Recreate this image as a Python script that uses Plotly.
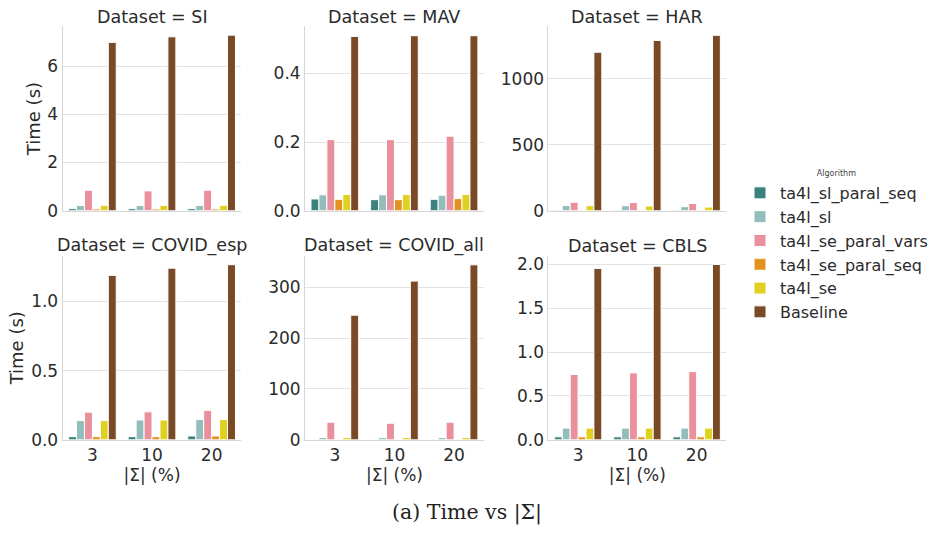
import plotly.graph_objects as go

# ---------------- data ----------------
sigma_labels = ["3", "10", "20"]
datasets = ["SI", "MAV", "HAR", "COVID_esp", "COVID_all", "CBLS"]
algorithms = ["ta4l_sl_paral_seq", "ta4l_sl", "ta4l_se_paral_vars",
              "ta4l_se_paral_seq", "ta4l_se", "Baseline"]

si_sl_paral_seq = [0.08, 0.08, 0.08]
si_sl = [0.21, 0.21, 0.21]
si_se_paral_vars = [0.85, 0.82, 0.85]
si_se_paral_seq = [0.07, 0.07, 0.07]
si_se = [0.22, 0.22, 0.22]
si_baseline = [6.99, 7.22, 7.29]

mav_sl_paral_seq = [0.034, 0.032, 0.033]
mav_sl = [0.046, 0.046, 0.045]
mav_se_paral_vars = [0.207, 0.207, 0.217]
mav_se_paral_seq = [0.033, 0.032, 0.035]
mav_se = [0.047, 0.047, 0.047]
mav_baseline = [0.508, 0.510, 0.510]

har_sl_paral_seq = [3, 3, 3]
har_sl = [39, 37, 30]
har_se_paral_vars = [64, 61, 54]
har_se_paral_seq = [2, 2, 2]
har_se = [37, 35, 27]
har_baseline = [1200, 1289, 1328]

cesp_sl_paral_seq = [0.023, 0.023, 0.028]
cesp_sl = [0.139, 0.143, 0.146]
cesp_se_paral_vars = [0.200, 0.202, 0.212]
cesp_se_paral_seq = [0.023, 0.023, 0.028]
cesp_se = [0.139, 0.143, 0.146]
cesp_baseline = [1.188, 1.240, 1.265]

call_sl_paral_seq = [0.5, 0.5, 0.5]
call_sl = [4.5, 4.5, 4.5]
call_se_paral_vars = [34.6, 32.7, 34.6]
call_se_paral_seq = [0.5, 0.5, 0.5]
call_se = [4.5, 4.5, 4.5]
call_baseline = [245, 312, 344]

cbls_sl_paral_seq = [0.034, 0.034, 0.034]
cbls_sl = [0.134, 0.134, 0.134]
cbls_se_paral_vars = [0.745, 0.763, 0.778]
cbls_se_paral_seq = [0.034, 0.034, 0.034]
cbls_se = [0.134, 0.134, 0.134]
cbls_baseline = [1.955, 1.980, 2.000]

y_ticks_si = [0, 2, 4, 6]
y_ticks_mav = [0.0, 0.2, 0.4]
y_ticks_har = [0, 500, 1000]
y_ticks_cesp = [0.0, 0.5, 1.0]
y_ticks_call = [0, 100, 200, 300]
y_ticks_cbls = [0.0, 0.5, 1.0, 1.5, 2.0]

# ---------------- assembly ----------------
panel_values = {
    "SI": [si_sl_paral_seq, si_sl, si_se_paral_vars, si_se_paral_seq, si_se, si_baseline],
    "MAV": [mav_sl_paral_seq, mav_sl, mav_se_paral_vars, mav_se_paral_seq, mav_se, mav_baseline],
    "HAR": [har_sl_paral_seq, har_sl, har_se_paral_vars, har_se_paral_seq, har_se, har_baseline],
    "COVID_esp": [cesp_sl_paral_seq, cesp_sl, cesp_se_paral_vars, cesp_se_paral_seq, cesp_se, cesp_baseline],
    "COVID_all": [call_sl_paral_seq, call_sl, call_se_paral_vars, call_se_paral_seq, call_se, call_baseline],
    "CBLS": [cbls_sl_paral_seq, cbls_sl, cbls_se_paral_vars, cbls_se_paral_seq, cbls_se, cbls_baseline],
}
panel_ticks = {
    "SI": (y_ticks_si, "d", 7.65),
    "MAV": (y_ticks_mav, ".1f", 0.537),
    "HAR": (y_ticks_har, "d", 1395),
    "COVID_esp": (y_ticks_cesp, ".1f", 1.33),
    "COVID_all": (y_ticks_call, "d", 362),
    "CBLS": (y_ticks_cbls, ".1f", 2.10),
}

colors = ["#3b817c", "#93bdbb", "#ea909d", "#e1921f", "#e0d01f", "#7a4a27"]

W, H = 933, 538
col_px = [(63, 243), (307, 487), (552, 731)]
row_px = [(26, 214), (260, 448)]

text_color = "#2b2b2b"
font_family = "DejaVu Sans"

fig = go.Figure()
layout_axes = {}
annotations = []

for i, ds in enumerate(datasets):
    r, c = divmod(i, 3)
    idx = i + 1
    xname = "x" if idx == 1 else f"x{idx}"
    yname = "y" if idx == 1 else f"y{idx}"
    for k, alg in enumerate(algorithms):
        fig.add_trace(go.Bar(
            x=sigma_labels, y=panel_values[ds][k], name=alg,
            marker=dict(color=colors[k], line=dict(color="white", width=1)),
            xaxis=xname, yaxis=yname,
            legendgroup=alg, showlegend=(i == 0),
            offsetgroup=str(k),
        ))
    x0, x1 = col_px[c]
    yt, yb = row_px[r]
    ticks, fmt, top = panel_ticks[ds]
    xkey = "xaxis" if idx == 1 else f"xaxis{idx}"
    ykey = "yaxis" if idx == 1 else f"yaxis{idx}"
    layout_axes[xkey] = dict(
        domain=[x0 / W, x1 / W], anchor=yname,
        type="category", range=[-0.5, 2.5],
        showline=True, linecolor="#d6d6d6", linewidth=1,
        showgrid=False, ticks="", zeroline=False,
        showticklabels=(r == 1), ticklabelstandoff=0,
        tickfont=dict(size=17, color=text_color, family=font_family),
        title=dict(text="|Σ| (%)" if r == 1 else "", standoff=0,
                   font=dict(size=17, color=text_color, family=font_family)),
    )
    layout_axes[ykey] = dict(
        domain=[1 - yb / H, 1 - yt / H], anchor=xname,
        range=[0, top], tickvals=ticks, tickformat=fmt,
        showline=True, linecolor="#d6d6d6", linewidth=1,
        showgrid=True, gridcolor="#e3e3e3", gridwidth=1,
        ticks="", zeroline=False, ticklabelstandoff=0,
        tickfont=dict(size=17, color=text_color, family=font_family),
        title=dict(text="Time (s)" if c == 0 else "", standoff=2,
                   font=dict(size=18, color=text_color, family=font_family)),
    )
    annotations.append(dict(
        text=f"Dataset = {ds}", x=(x0 + x1) / 2 / W, y=1 - (yt - 10) / H,
        xref="paper", yref="paper", xanchor="center", yanchor="middle",
        showarrow=False, font=dict(size=17.5, color=text_color, family=font_family),
    ))

annotations.append(dict(
    text="(a) Time vs |Σ|", x=470 / W, y=1 - 522 / H,
    xref="paper", yref="paper", xanchor="center", yanchor="middle",
    showarrow=False, font=dict(size=20.5, color="#222222", family="DejaVu Serif"),
))

fig.update_layout(
    autosize=True,
    margin=dict(l=0, r=0, t=0, b=0),
    paper_bgcolor="white", plot_bgcolor="white",
    barmode="group", bargap=0.2, bargroupgap=0.0,
    font=dict(family=font_family, color=text_color),
    annotations=annotations,
    legend=dict(
        x=745 / W, y=1 - 168 / H, xanchor="left", yanchor="top",
        title=dict(text="Algorithm", side="top center",
                   font=dict(size=8, color="#444444", family=font_family)),
        font=dict(size=16, color=text_color, family=font_family),
        tracegroupgap=0, itemwidth=30,
        bgcolor="rgba(0,0,0,0)",
    ),
    **layout_axes,
)

post_js = (
    "document.documentElement.style.margin='0';"
    "document.body.style.margin='0';"
    "document.body.style.overflow='hidden';"
    "document.documentElement.style.overflow='hidden';"
    "var d=document.getElementById('{plot_id}');"
    "d.style.position='fixed';d.style.left='0px';d.style.top='0px';"
    "Plotly.Plots.resize(d);"
)

fig.write_html("out.html", post_script=post_js,
               default_width="100vw", default_height="100vh",
               config={"displayModeBar": False, "responsive": True})
